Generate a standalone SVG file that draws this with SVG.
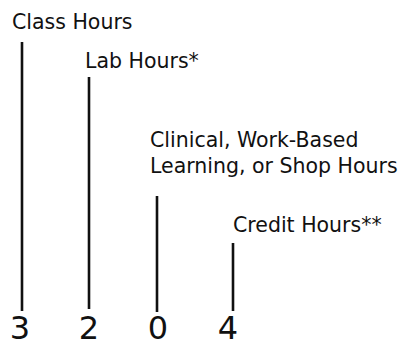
<svg xmlns="http://www.w3.org/2000/svg" width="406" height="347" viewBox="0 0 406 347">
<style>
.lbl{font-family:"DejaVu Sans","Liberation Sans",sans-serif;font-size:20.5px;fill:#111}
.dig{font-family:"DejaVu Sans","Liberation Sans",sans-serif;font-size:32px;fill:#111;text-anchor:middle}
.ln{stroke:#111;stroke-width:2.6;fill:none}
</style>
<rect width="406" height="347" fill="#fff"/>
<g id="connectors">
<line class="ln" x1="22" y1="42" x2="22" y2="311"/>
<line class="ln" x1="89" y1="77" x2="89" y2="309"/>
<line class="ln" x1="157" y1="196" x2="157" y2="312"/>
<line class="ln" x1="233" y1="243" x2="233" y2="311"/>
</g>
<g id="class-hours"><text class="lbl" x="12" y="29">Class Hours</text><text class="dig" x="20" y="339">3</text></g>
<g id="lab-hours"><text class="lbl" x="85" y="68">Lab Hours*</text><text class="dig" x="89" y="339">2</text></g>
<g id="clinical-hours"><text class="lbl" x="150" y="147">Clinical, Work-Based</text><text class="lbl" x="150" y="173">Learning, or Shop Hours</text><text class="dig" x="158" y="339">0</text></g>
<g id="credit-hours"><text class="lbl" x="233" y="232">Credit Hours**</text><text class="dig" x="228" y="339">4</text></g>
</svg>
